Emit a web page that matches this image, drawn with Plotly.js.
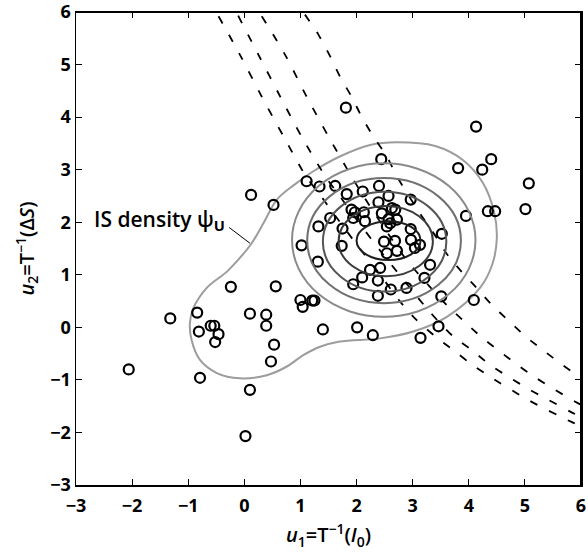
<!DOCTYPE html>
<html>
<head>
<meta charset="utf-8">
<script src="https://cdn.plot.ly/plotly-3.0.1.min.js"></script>
<style>
html,body{margin:0;padding:0;background:#fff;overflow:hidden;}
#wrap{position:relative;width:588px;height:553px;}
#chart{width:588px;height:553px;}
#frame{position:absolute;left:76px;top:12px;width:505px;height:473px;box-sizing:border-box;border-top:1.5px solid #000;border-right:1.5px solid #000;pointer-events:none;}
</style>
</head>
<body>
<div id="wrap"><div id="chart"></div><div id="frame"></div></div>
<script>
// Sample points (u1, u2)
const sampleU1 = [-2.06,-1.32,-0.84,-0.81,-0.60,-0.535,-0.46,-0.52,-0.79,-0.24,0.10,0.02,0.10,0.39,0.39,0.53,0.475,0.56,
  0.12,0.52,1.02,1.00,1.04,1.21,1.25,1.40,2.01,2.29,3.14,3.46,3.51,4.09,2.38,2.61,2.89,3.21,1.94,2.10,2.38,3.31,
  4.13,3.81,4.24,4.40,5.07,5.01,4.34,4.47,3.95,3.52,2.965,1.81,1.11,2.44,1.34,1.62,1.825,2.11,2.40,2.57,
  1.91,1.97,1.94,2.13,2.15,2.39,2.45,2.63,2.69,2.57,2.60,2.54,2.72,1.53,1.32,1.75,1.735,1.31,2.965,2.49,
  2.685,2.54,2.72,2.97,3.04,3.13,2.24,2.42];
const sampleU2 = [-0.80,0.17,0.28,-0.08,0.03,0.03,-0.13,-0.28,-0.96,0.77,0.26,-2.07,-1.19,0.24,0.03,-0.33,-0.65,0.78,
  2.52,2.33,1.56,0.52,0.39,0.51,0.51,-0.04,0.00,-0.15,-0.20,0.02,0.59,0.52,0.60,0.72,0.75,0.94,0.82,0.95,0.89,1.19,
  3.82,3.03,3.00,3.20,2.74,2.25,2.21,2.21,2.12,1.78,2.43,4.18,2.78,3.20,2.68,2.69,2.535,2.585,2.69,2.50,
  2.24,2.19,2.08,2.19,2.02,2.38,2.17,2.27,2.24,2.06,1.98,1.92,2.05,2.08,1.92,1.88,1.55,1.25,1.87,1.63,
  1.645,1.41,1.455,1.665,1.51,1.57,1.095,1.13];

// Outer IS-density contour (closed)
const outerU1 = [2.72,3.40,3.90,4.25,4.45,4.50,4.42,4.20,3.61,3.01,2.42,1.70,1.35,1.05,0.75,0.40,-0.08,-0.49,-0.79,-0.94,-0.97,-0.91,-0.67,-0.31,-0.08,0.13,0.34,0.58,0.90,1.23,1.70,2.24,2.72];
const outerU2 = [3.52,3.45,3.18,2.75,2.20,1.70,1.20,0.75,0.20,-0.08,-0.21,-0.27,-0.37,-0.53,-0.75,-0.91,-0.97,-0.87,-0.62,-0.24,0.08,0.36,0.75,1.06,1.32,1.60,1.98,2.43,2.72,2.97,3.25,3.47,3.52];

// Inner contour ellipses (bounding boxes), outer to inner
const ringLeft   = [0.85, 1.12, 1.40, 1.68, 2.00];
const ringRight  = [4.12, 3.86, 3.60, 3.36, 3.14];
const ringBottom = [0.20, 0.46, 0.68, 0.97, 1.28];
const ringTop    = [3.12, 2.84, 2.58, 2.31, 2.02];
const ringColor  = ['#8a8a8a', '#707070', '#555555', '#3a3a3a', '#1e1e1e'];
const outerColor = '#9c9c9c';

// Limit-state curves (dashed)
const limA_u1 = [-0.46,-0.08,0.31,0.70,1.10,1.35,1.65,2.00,2.40,2.77,3.04,3.40,3.72,4.02,4.38,5.09,5.83,6.1];
const limA_u2 = [5.92,5.19,4.39,3.63,2.87,2.52,2.08,1.58,1.03,0.50,0.17,-0.17,-0.43,-0.68,-0.94,-1.40,-1.80,-1.93];
const limB_u1 = [-0.11,0.25,0.64,1.02,1.44,1.705,2.05,2.45,2.90,3.30,3.72,4.05,4.38,4.705,5.09,5.42,5.80,6.1];
const limB_u2 = [5.93,5.19,4.39,3.63,2.88,2.49,1.98,1.42,0.82,0.30,-0.17,-0.43,-0.715,-0.94,-1.19,-1.38,-1.60,-1.76];
const limC_u1 = [0.31,0.725,1.11,1.50,1.91,2.11,2.50,2.90,3.30,3.60,3.90,4.22,4.53,4.87,5.18,5.54,5.89,6.1];
const limC_u2 = [5.92,5.19,4.39,3.63,2.87,2.52,1.88,1.27,0.78,0.43,0.13,-0.18,-0.44,-0.715,-0.95,-1.19,-1.41,-1.53];
const limD_u1 = [1.08,1.32,1.53,1.705,1.91,2.09,2.30,2.54,2.72,3.13,3.43,3.60,3.87,4.14,4.41,4.705,5.02,5.33,5.67,6.05];
const limD_u2 = [5.95,5.57,5.155,4.77,4.39,4.01,3.63,3.25,2.87,2.17,1.70,1.41,1.06,0.75,0.43,0.13,-0.18,-0.44,-0.715,-1.0];

// Label leader line
const leaderU1 = [-0.27, 0.10];
const leaderU2 = [1.90, 1.60];
const labelPos = [-1.52, 2.04];

const axisRange = [-3, 6];
const tickVals = [-3,-2,-1,0,1,2,3,4,5,6];
const tickText = ['−3','−2','−1','0','1','2','3','4','5','6'];

const fontFam = '"Open Sans", "Noto Sans", sans-serif';

const dashStyle = {color:'#000', width:1.8, dash:'8px,13px', shape:'spline', smoothing:0.8};
const traces = [
  {x: outerU1, y: outerU2, mode:'lines', line:{color:outerColor, width:2, shape:'spline', smoothing:1}, hoverinfo:'skip'},
  {x: limA_u1, y: limA_u2, mode:'lines', line:dashStyle},
  {x: limB_u1, y: limB_u2, mode:'lines', line:dashStyle},
  {x: limC_u1, y: limC_u2, mode:'lines', line:dashStyle},
  {x: limD_u1, y: limD_u2, mode:'lines', line:dashStyle},
  {x: sampleU1, y: sampleU2, mode:'markers', marker:{symbol:'circle-open', size:10, color:'#000', line:{width:2.2, color:'#000'}}},
  {x: leaderU1, y: leaderU2, mode:'lines', line:{color:'#000', width:1}}
];

const shapes = ringLeft.map((l, i) => ({
  type:'circle', xref:'x', yref:'y', x0:l, x1:ringRight[i], y0:ringBottom[i], y1:ringTop[i],
  line:{color:ringColor[i], width:2}, layer:'above'
}));

const axisCommon = {
  range:axisRange, tickvals:tickVals, ticktext:tickText, ticks:'inside', ticklen:6, tickwidth:1.2, tickcolor:'#000',
  showline:true, linecolor:'#000', linewidth:1.5, mirror:'allticks', showgrid:false, zeroline:false,
  ticklabeloverflow:'allow',
  tickfont:{family:fontFam, size:18, color:'#000', weight:'bold'}
};

const layout = {
  width:588, height:553,
  margin:{l:76, r:7, t:12, b:68},
  paper_bgcolor:'#fff', plot_bgcolor:'#fff',
  showlegend:false,
  shapes: shapes,
  xaxis: Object.assign({}, axisCommon, {
    ticklabelstandoff:4,
    title:{text:'<i>u</i><sub>1</sub>=T<sup>−1</sup>(<i>I</i><sub>0</sub>)', font:{family:fontFam, size:20, color:'#000', weight:600}, standoff:12}
  }),
  yaxis: Object.assign({}, axisCommon, {
    title:{text:'<i>u</i><sub>2</sub>=T<sup>−1</sup>(Δ<i>S</i>)', font:{family:fontFam, size:20, color:'#000', weight:600}, standoff:10}
  }),
  annotations:[{
    x: labelPos[0], y: labelPos[1], xref:'x', yref:'y', showarrow:false,
    text:'IS density ψ<sub><b>U</b></sub>', font:{family:fontFam, size:21, color:'#000', weight:600}
  }]
};

Plotly.newPlot('chart', traces, layout, {staticPlot:true});
</script>
</body>
</html>
